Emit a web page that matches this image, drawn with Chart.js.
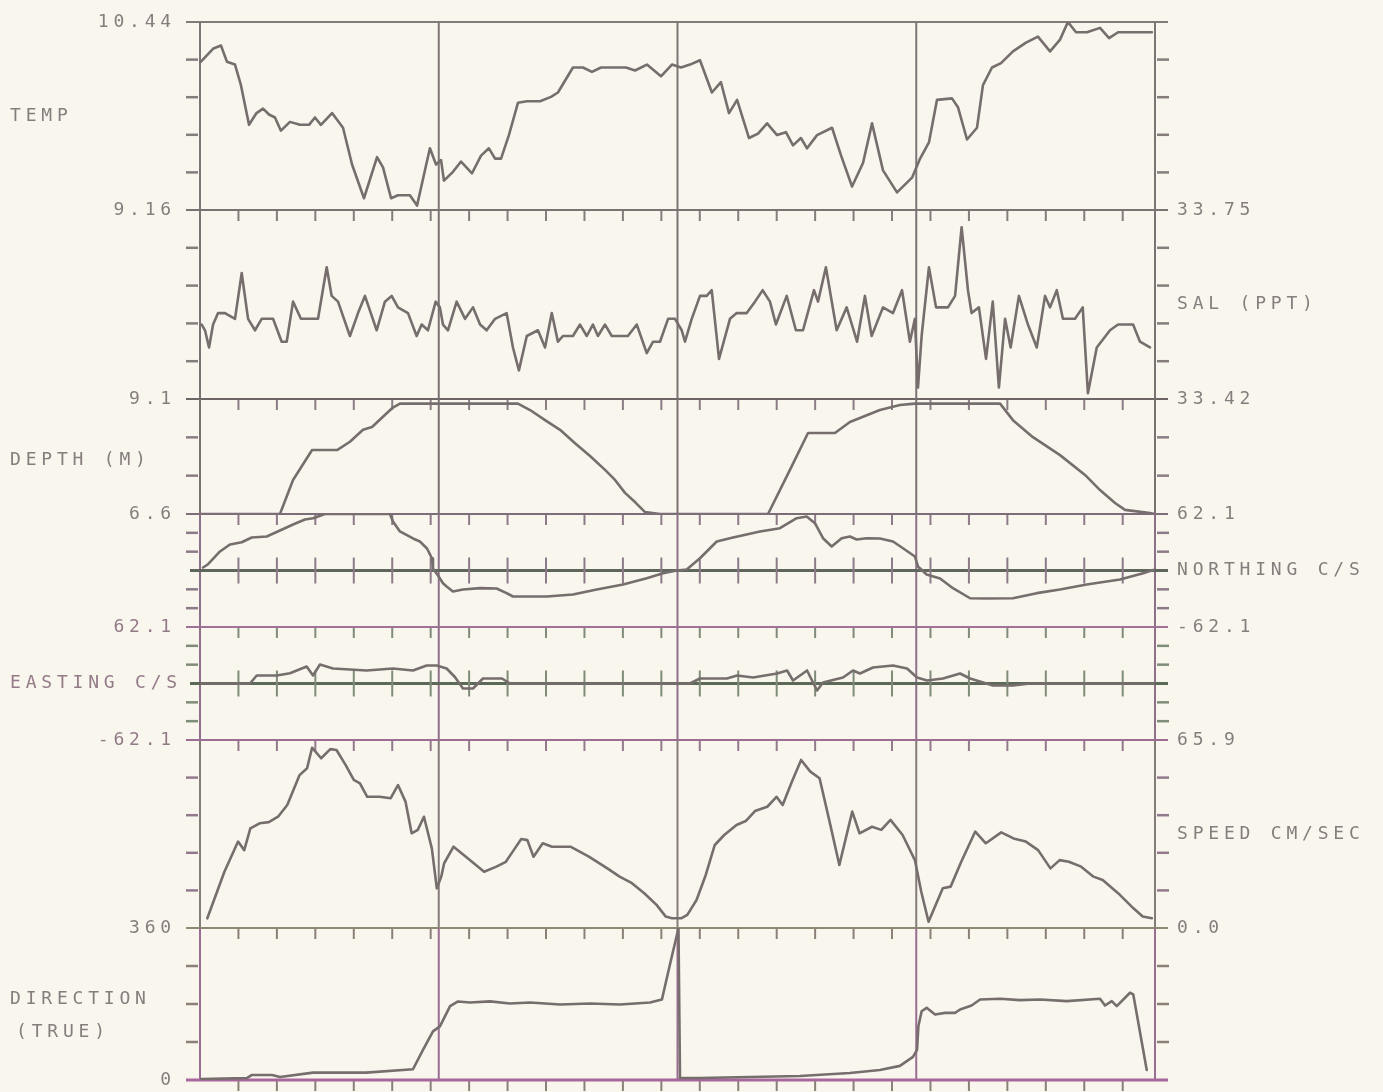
<!DOCTYPE html>
<html>
<head>
<meta charset="utf-8">
<title>Current meter record</title>
<script src="https://cdn.jsdelivr.net/npm/chart.js@4.4.1/dist/chart.umd.min.js"></script>
<style>
  html, body { margin: 0; padding: 0; background: #f9f6ee; }
  #plot { position: relative; width: 1383px; height: 1092px; overflow: hidden; }
  #plot canvas { position: absolute; left: 0; }
</style>
</head>
<body>
<div id="plot"></div>
<script>
// time axis: hours from start of record, four M2 cycles, ticks every 2 h
const RECORD_HOURS = 49.68;
const CYCLE_HOURS = 12.42;
const TICK_HOURS = 2;

// temperature (deg C)
const tempLimits = [9.16, 10.44];
const tempHours = [
  0.05, 0.70, 1.09, 1.40, 1.82, 2.13, 2.55, 2.94, 3.28, 3.59,
  3.90, 4.21, 4.68, 5.20, 5.67, 5.98, 6.29, 6.87, 7.44, 7.91,
  8.53, 9.21, 9.52, 9.94, 10.30, 10.92, 11.29, 11.65, 11.96, 12.28,
  12.54, 12.69, 13.16, 13.58, 14.15, 14.62, 15.03, 15.35, 15.66, 16.07,
  16.54, 17.01, 17.69, 18.26, 18.62, 18.94, 19.40, 19.92, 20.39, 20.86,
  21.48, 22.16, 22.63, 23.25, 23.98, 24.55, 25.02, 25.49, 26.01, 26.63,
  27.10, 27.52, 27.94, 28.56, 29.03, 29.50, 30.02, 30.48, 30.85, 31.26,
  31.58, 32.10, 32.88, 33.35, 33.92, 34.49, 34.96, 35.53, 36.26, 37.04,
  37.46, 37.92, 38.34, 39.12, 39.43, 39.90, 40.42, 40.73, 41.20, 41.67,
  42.29, 42.97, 43.59, 44.22, 44.74, 45.15, 45.57, 46.14, 46.82, 47.29,
  47.76, 48.22, 48.90, 49.52
];
const tempValues = [
  10.17, 10.26, 10.28, 10.17, 10.15, 10.01, 9.74, 9.82, 9.85, 9.81,
  9.79, 9.70, 9.76, 9.74, 9.74, 9.79, 9.74, 9.82, 9.72, 9.47,
  9.24, 9.52, 9.45, 9.24, 9.26, 9.26, 9.19, 9.40, 9.58, 9.47,
  9.50, 9.36, 9.42, 9.49, 9.41, 9.53, 9.58, 9.51, 9.51, 9.67,
  9.89, 9.90, 9.90, 9.93, 9.96, 10.03, 10.13, 10.13, 10.10, 10.13,
  10.13, 10.13, 10.11, 10.15, 10.07, 10.15, 10.13, 10.15, 10.18, 9.96,
  10.03, 9.82, 9.91, 9.65, 9.68, 9.75, 9.67, 9.69, 9.60, 9.65,
  9.58, 9.67, 9.72, 9.53, 9.32, 9.48, 9.75, 9.43, 9.28, 9.38,
  9.51, 9.62, 9.91, 9.92, 9.86, 9.64, 9.72, 10.01, 10.13, 10.16,
  10.24, 10.30, 10.34, 10.24, 10.32, 10.44, 10.37, 10.37, 10.40, 10.33,
  10.37, 10.37, 10.37, 10.37
];

// salinity (ppt)
const salLimits = [33.42, 33.75];
const salHours = [
  0.09, 0.26, 0.47, 0.68, 0.94, 1.30, 1.82, 2.17, 2.50, 2.86,
  3.21, 3.80, 4.25, 4.51, 4.84, 5.25, 5.62, 6.14, 6.59, 6.85,
  7.18, 7.80, 8.22, 8.58, 9.19, 9.62, 9.97, 10.30, 10.82, 11.27,
  11.53, 11.86, 12.26, 12.48, 12.64, 12.90, 13.35, 13.79, 14.20, 14.57,
  14.91, 15.35, 15.95, 16.28, 16.59, 17.00, 17.58, 17.95, 18.30, 18.62,
  18.88, 19.40, 19.77, 20.12, 20.44, 20.70, 21.07, 21.42, 22.26, 22.72,
  23.24, 23.57, 23.93, 24.35, 24.71, 25.06, 25.23, 25.58, 26.01, 26.36,
  26.62, 27.00, 27.57, 27.92, 28.44, 28.87, 29.27, 29.65, 29.96, 30.52,
  31.00, 31.37, 31.94, 32.15, 32.56, 33.12, 33.64, 34.18, 34.59, 34.94,
  35.53, 36.05, 36.52, 36.93, 37.19, 37.35, 37.54, 37.92, 38.29, 38.91,
  39.28, 39.62, 39.95, 40.14, 40.52, 40.89, 41.24, 41.56, 41.88, 42.17,
  42.60, 43.07, 43.53, 43.96, 44.22, 44.57, 44.89, 45.52, 45.92, 46.19,
  46.65, 47.34, 47.76, 48.12, 48.54, 48.90, 49.42
];
const salValues = [
  33.55, 33.54, 33.51, 33.55, 33.57, 33.57, 33.56, 33.64, 33.56, 33.54,
  33.56, 33.56, 33.52, 33.52, 33.59, 33.56, 33.56, 33.56, 33.65, 33.60,
  33.59, 33.53, 33.57, 33.60, 33.54, 33.59, 33.60, 33.58, 33.57, 33.53,
  33.55, 33.54, 33.59, 33.58, 33.55, 33.54, 33.59, 33.56, 33.58, 33.55,
  33.54, 33.56, 33.57, 33.51, 33.47, 33.53, 33.54, 33.51, 33.57, 33.52,
  33.53, 33.53, 33.55, 33.53, 33.55, 33.53, 33.55, 33.53, 33.53, 33.55,
  33.50, 33.52, 33.52, 33.56, 33.56, 33.54, 33.52, 33.56, 33.60, 33.60,
  33.61, 33.49, 33.56, 33.57, 33.57, 33.59, 33.61, 33.59, 33.55, 33.60,
  33.54, 33.54, 33.61, 33.59, 33.65, 33.54, 33.58, 33.52, 33.60, 33.53,
  33.58, 33.57, 33.61, 33.52, 33.56, 33.44, 33.53, 33.65, 33.58, 33.58,
  33.60, 33.72, 33.61, 33.57, 33.58, 33.49, 33.59, 33.44, 33.56, 33.51,
  33.60, 33.55, 33.51, 33.60, 33.58, 33.61, 33.56, 33.56, 33.58, 33.43,
  33.51, 33.54, 33.55, 33.55, 33.55, 33.52, 33.51
];

// instrument depth (m), held at the plot limits by the recorder
const depthLimits = [6.6, 9.1];
const depthHours = [
  0, 4.16, 4.84, 5.83, 7.13, 7.80, 8.48, 8.95, 9.99, 10.40,
  16.54, 17.17, 17.95, 18.73, 19.51, 20.29, 21.07, 21.59, 22.11, 22.63,
  23.15, 23.93, 29.55, 30.69, 31.63, 33.03, 33.81, 35.37, 36.41, 37.19,
  41.62, 42.29, 43.33, 44.74, 46.04, 46.82, 47.60, 48.12, 49.42, 49.68
];
const depthValues = [
  6.6, 6.6, 7.34, 7.99, 7.99, 8.17, 8.43, 8.49, 8.90, 9.0,
  9.0, 8.86, 8.64, 8.43, 8.14, 7.86, 7.56, 7.34, 7.06, 6.86,
  6.64, 6.6, 6.6, 7.56, 8.36, 8.36, 8.60, 8.86, 8.97, 9.0,
  9.0, 8.64, 8.27, 7.88, 7.45, 7.12, 6.84, 6.69, 6.62, 6.6
];

// north component of current (cm/s)
const northLimits = [-62.1, 62.1];
const northHours = [
  0.16, 0.42, 1.04, 1.56, 2.17, 2.69, 3.47, 4.16, 4.84, 5.46,
  5.88, 6.50, 9.88, 10.04, 10.40, 11.08, 11.44, 11.81, 12.07, 12.12,
  12.38, 12.64, 12.83, 13.16, 13.68, 14.57, 15.43, 15.95, 16.28, 18.04,
  19.40, 20.64, 22.01, 23.24, 24.09, 24.80, 25.32, 26.01, 26.88, 27.73,
  29.13, 30.17, 31.04, 31.56, 31.99, 32.41, 32.86, 33.38, 33.81, 34.16,
  34.68, 35.37, 36.05, 36.57, 37.19, 37.35, 37.80, 38.50, 39.17, 40.06,
  40.92, 42.29, 43.53, 44.74, 46.13, 47.86, 49.06, 49.68
];
const northValues = [
  3.3, 6.9, 20.9, 28.6, 31.1, 36.3, 37.4, 44.0, 50.5, 56.0,
  57.5, 62.1, 62.1, 53.9, 42.9, 35.2, 31.9, 24.2, 13.2, 2.2,
  -5.5, -14.0, -17.6, -23.1, -20.9, -19.4, -19.8, -24.9, -28.6, -28.6,
  -26.4, -20.9, -15.4, -8.5, -3.0, 0, 1.1, 13.5, 31.9, 36.3,
  42.9, 46.5, 57.5, 59.3, 52.0, 35.5, 26.4, 35.5, 37.4, 34.1,
  35.5, 35.2, 31.9, 24.5, 15.4, 4.4, -4.4, -8.8, -19.5, -30.5,
  -30.8, -30.5, -24.9, -20.9, -15.4, -9.9, -3.0, 1.1
];

// east component of current (cm/s)
const eastLimits = [-62.1, 62.1];
const eastHours = [
  0, 2.60, 2.95, 3.99, 4.68, 5.55, 5.88, 6.24, 6.92, 8.67,
  10.04, 11.08, 11.79, 12.31, 12.83, 13.27, 13.68, 14.20, 14.72, 15.71,
  16.13, 25.49, 26.01, 27.41, 27.94, 28.77, 30.02, 30.54, 30.85, 31.58,
  32.10, 32.41, 33.45, 33.97, 34.33, 35.01, 36.05, 36.78, 37.30, 37.82,
  38.65, 39.54, 40.06, 41.25, 42.29, 43.18, 49.68
];
const eastValues = [
  0, 0, 8.8, 8.8, 11.3, 18.7, 8.8, 20.9, 16.5, 14.3,
  16.5, 14.3, 19.8, 19.8, 16.5, 6.9, -5.5, -5.5, 5.5, 5.5,
  0, 0, 5.5, 5.5, 8.8, 6.6, 11.0, 14.3, 3.3, 14.3,
  -7.7, 1.1, 6.6, 14.3, 11.0, 17.6, 19.8, 16.5, 6.6, 3.3,
  5.5, 11.0, 5.5, -2.2, -2.2, 0, 0
];

// current speed (cm/s)
const speedLimits = [0, 65.9];
const speedHours = [
  0.38, 1.27, 1.98, 2.30, 2.62, 3.10, 3.58, 4.06, 4.54, 5.18,
  5.57, 5.83, 6.30, 6.78, 7.10, 7.58, 8.00, 8.32, 8.70, 9.34,
  9.92, 10.30, 10.69, 11.01, 11.33, 11.65, 12.06, 12.32, 12.55, 12.70,
  13.19, 13.83, 14.78, 15.42, 15.91, 16.32, 16.71, 17.03, 17.35, 17.83,
  18.31, 19.27, 20.23, 21.19, 21.83, 22.47, 23.11, 23.75, 24.23, 24.55,
  25.03, 25.35, 25.83, 26.31, 26.78, 27.27, 27.91, 28.39, 28.87, 29.51,
  29.99, 30.31, 30.79, 31.27, 31.75, 32.23, 32.71, 33.26, 33.93, 34.31,
  34.96, 35.44, 35.92, 36.55, 37.19, 37.52, 37.90, 38.64, 39.05, 39.60,
  40.33, 40.88, 41.68, 42.32, 42.96, 43.60, 44.24, 44.72, 45.20, 45.84,
  46.48, 46.96, 47.76, 48.56, 49.04, 49.52
];
const speedValues = [
  3.4, 19.7, 30.3, 27.3, 34.9, 36.7, 37.1, 39.0, 43.1, 53.6,
  56.0, 63.2, 59.5, 62.7, 62.4, 57.1, 51.9, 50.7, 46.0, 46.0,
  45.5, 50.1, 44.3, 33.2, 34.4, 39.0, 27.9, 13.9, 18.0, 22.7,
  28.5, 25.0, 19.7, 21.5, 23.2, 27.3, 31.2, 30.8, 25.0, 29.7,
  28.5, 28.5, 25.0, 20.9, 18.0, 15.7, 12.2, 8.1, 4.0, 3.4,
  3.4, 4.6, 9.8, 18.6, 29.1, 32.6, 36.1, 37.5, 41.0, 42.5,
  46.0, 43.1, 51.3, 58.9, 54.8, 52.5, 38.5, 22.1, 40.8, 33.2,
  35.5, 34.4, 37.9, 32.6, 23.8, 12.7, 2.2, 13.9, 14.5, 23.2,
  33.8, 29.7, 33.5, 31.4, 30.3, 27.3, 20.9, 23.8, 23.2, 21.5,
  18.0, 16.8, 12.2, 6.9, 4.0, 3.4
];

// current direction (deg true)
const dirLimits = [0, 360];
const dirHours = [
  0.05, 2.45, 2.71, 3.75, 4.16, 5.88, 8.64, 11.08, 11.60, 12.12,
  12.48, 13.01, 13.42, 14.05, 15.09, 16.13, 17.17, 18.73, 20.29, 21.85,
  23.41, 24.03, 24.45, 24.82, 24.89, 24.97, 26.01, 28.61, 31.21, 33.81,
  35.37, 36.41, 37.09, 37.30, 37.37, 37.54, 37.80, 38.24, 38.76, 39.28,
  39.54, 40.14, 40.58, 41.62, 42.66, 43.70, 45.09, 46.82, 47.08, 47.43,
  47.69, 48.38, 48.55, 49.25
];
const dirValues = [
  2, 4.8, 11.9, 11.9, 7.2, 17.4, 17.4, 25.5, 71.5, 115.2,
  127.1, 174.8, 186.0, 183.6, 186.3, 181.2, 183.6, 178.8, 181.2, 178.8,
  183.6, 190.7, 274.2, 345.7, 360, 4.8, 4.8, 7.2, 9.5, 16.7,
  23.8, 33.4, 54.8, 71.5, 127.1, 162.8, 170.9, 155.0, 159.0, 159.0,
  166.9, 176.4, 190.7, 192.4, 189.1, 190.7, 186.7, 192.4, 176.4, 186.7,
  174.8, 206.7, 202.6, 23.8
];

const FONT = '18px "DejaVu Sans Mono", "Liberation Mono", monospace';
const INK = '#867d7d';
const TRACE = '#766d6d';
const PAD = 20;
const WIDTH = 1383;
const AREA_LEFT = 200;
const AREA_RIGHT = 1155;

// one strip per variable, stacked from the top of the sheet
const strips = [
  { hours: tempHours, values: tempValues, limits: tempLimits, digits: 2, top: 22, bottom: 210,
    divisions: 5, side: 'left', titles: [{ text: 'TEMP', dy: 0 }], edge: '#827979',
    frame: '#7d7575', tick: '#857c7c', topTicks: false },
  { hours: salHours, values: salValues, limits: salLimits, digits: 2, top: 210, bottom: 399,
    divisions: 5, side: 'right', titles: [{ text: 'SAL (PPT)', dy: 0 }], edge: '#7b7272',
    frame: '#7a7272', tick: '#857c7c', topTicks: true },
  { hours: depthHours, values: depthValues, limits: depthLimits, digits: 1, top: 399, bottom: 514,
    divisions: 3, side: 'left', titles: [{ text: 'DEPTH (M)', dy: 4 }], edge: '#6e6666',
    frame: '#7a7070', tick: '#8a7d86', topTicks: true },
  { hours: northHours, values: northValues, limits: northLimits, digits: 1, top: 514, bottom: 627,
    divisions: 6, side: 'right', titles: [{ text: 'NORTHING C/S', zero: true }], edge: '#7d6d79',
    frame: '#8c7088', tick: '#8c7a88', topTicks: true, zero: '#5f675d' },
  { hours: eastHours, values: eastValues, limits: eastLimits, digits: 1, top: 627, bottom: 740,
    divisions: 6, side: 'left', titles: [{ text: 'EASTING C/S', zero: true }], edge: '#a0729a',
    frame: '#8f6f8a', tick: '#7f8c78', topTicks: true, zero: '#5c6858', ink: '#937a87' },
  { hours: speedHours, values: speedValues, limits: speedLimits, digits: 1, top: 740, bottom: 928,
    divisions: 5, side: 'right', titles: [{ text: 'SPEED CM/SEC', dy: 0 }], edge: '#9c6e96',
    frame: '#857b78', tick: '#927a8c', topTicks: true },
  { hours: dirHours, values: dirValues, limits: dirLimits, digits: 0, top: 928, bottom: 1080,
    divisions: 4, side: 'left', titles: [{ text: 'DIRECTION', dy: -5 }, { text: '(TRUE)', dy: 28, dx: 6 }],
    edge: '#8d8a72', frame: '#9a6d92', tick: '#8a8078', topTicks: true, base: '#a8669c' }
];

function rule(ctx, x0, x1, y, color, width) {
  ctx.strokeStyle = color;
  ctx.lineWidth = width;
  ctx.beginPath();
  ctx.moveTo(x0, y);
  ctx.lineTo(x1, y);
  ctx.stroke();
}

function post(ctx, x, y0, y1, color, width) {
  ctx.strokeStyle = color;
  ctx.lineWidth = width;
  ctx.beginPath();
  ctx.moveTo(x, y0);
  ctx.lineTo(x, y1);
  ctx.stroke();
}

// short marks every two hours hanging off a horizontal rule
function hourMarks(ctx, xScale, y, from, to, color) {
  for (let h = TICK_HOURS; h < RECORD_HOURS; h += TICK_HOURS) {
    post(ctx, xScale.getPixelForValue(h), y + from, y + to, color, 2);
  }
}

function stripFrame(s, last) {
  return {
    id: 'stripFrame',
    beforeDatasetsDraw(chart) {
      const { ctx, chartArea: area, scales: { x, y } } = chart;
      const [lo, hi] = s.limits;
      const yTop = y.getPixelForValue(hi);
      const yBot = y.getPixelForValue(lo);
      const outL = area.left - 14;
      const outR = area.right + 13;
      ctx.save();

      rule(ctx, outL, outR, yTop, s.edge, 2);
      if (s.topTicks) hourMarks(ctx, x, yTop, 1, 11, s.tick);

      post(ctx, area.left, yTop, yBot, s.frame, 2);
      post(ctx, area.right, yTop, yBot, s.frame, 2);
      for (let c = CYCLE_HOURS; c < RECORD_HOURS - 1; c += CYCLE_HOURS) {
        post(ctx, x.getPixelForValue(c), yTop, yBot, s.frame, 2);
      }

      for (let k = 1; k < s.divisions; k++) {
        const v = lo + (hi - lo) * k / s.divisions;
        if (s.zero && Math.abs(v) < 1e-6) continue;
        const py = y.getPixelForValue(v);
        rule(ctx, outL, area.left - 2, py, s.tick, 2.5);
        rule(ctx, area.right + 2, outR + 1, py, s.tick, 2.5);
      }

      if (s.zero) {
        const pz = y.getPixelForValue(0);
        rule(ctx, outL + 4, outR, pz, s.zero, 3);
        hourMarks(ctx, x, pz, -13, 13, s.tick);
      }
      if (last) {
        rule(ctx, outL, outR, yBot, s.base, 3);
        hourMarks(ctx, x, yBot, 1, 11, s.tick);
      }

      // axis limits and variable name
      ctx.font = FONT;
      ctx.fillStyle = s.ink || INK;
      ctx.textBaseline = 'middle';
      ctx.letterSpacing = '4.8px';
      const hiText = hi.toFixed(s.digits);
      const loText = lo.toFixed(s.digits);
      const mid = s.titles.length && s.titles[0].zero ? y.getPixelForValue(0) : (yTop + yBot) / 2;
      if (s.side === 'left') {
        ctx.textAlign = 'right';
        ctx.fillText(hiText, area.left - 24, yTop);
        ctx.fillText(loText, area.left - 24, yBot);
        ctx.textAlign = 'left';
        s.titles.forEach(t => ctx.fillText(t.text, 10 + (t.dx || 0), mid + (t.dy || 0)));
      } else {
        ctx.textAlign = 'left';
        ctx.fillText(hiText, area.right + 22, yTop);
        ctx.fillText(loText, area.right + 22, yBot);
        s.titles.forEach(t => ctx.fillText(t.text, area.right + 22 + (t.dx || 0), mid + (t.dy || 0)));
      }
      ctx.restore();
    }
  };
}

const plot = document.getElementById('plot');

strips.forEach((s, i) => {
  const canvas = document.createElement('canvas');
  canvas.width = WIDTH;
  canvas.height = s.bottom - s.top + 2 * PAD;
  canvas.style.top = (s.top - PAD) + 'px';
  plot.appendChild(canvas);

  const points = s.hours.map((h, j) => ({ x: h, y: s.values[j] }));

  new Chart(canvas, {
    type: 'line',
    data: {
      datasets: [{
        data: points,
        borderColor: TRACE,
        borderWidth: 2.6,
        pointRadius: 0,
        tension: 0,
        borderJoinStyle: 'round',
        borderCapStyle: 'round'
      }]
    },
    options: {
      responsive: false,
      animation: false,
      events: [],
      layout: { padding: { left: AREA_LEFT, right: WIDTH - AREA_RIGHT, top: PAD, bottom: PAD } },
      plugins: { legend: { display: false }, tooltip: { enabled: false } },
      scales: {
        x: { type: 'linear', min: 0, max: RECORD_HOURS, display: false },
        y: { type: 'linear', min: s.limits[0], max: s.limits[1], display: false }
      }
    },
    plugins: [stripFrame(s, i === strips.length - 1)]
  });
});
</script>
</body>
</html>
